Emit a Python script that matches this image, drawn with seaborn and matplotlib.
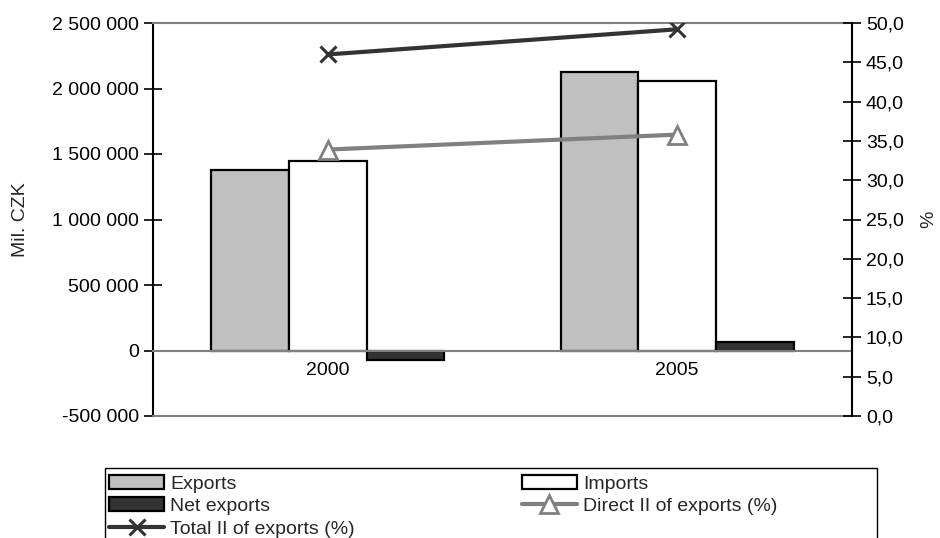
import numpy as np
import pandas as pd
import matplotlib.pyplot as plt
import seaborn as sns
from matplotlib.patches import Rectangle
from matplotlib.ticker import FuncFormatter, FixedLocator

years = ['2000', '2005']
exports = [1375000, 2125000]
imports = [1450000, 2060000]
net_exports = [-75000, 65000]
direct_ii = [33.9, 35.8]
total_ii = [46.0, 49.2]

sns.set_theme(style='white')
plt.rcParams['font.family'] = ['Liberation Sans', 'DejaVu Sans']
FS = 14

W, H = 940, 538
fig = plt.figure(figsize=(W / 100, H / 100), dpi=100)
ax = fig.add_axes([153 / W, 1 - 416 / H, (852 - 153) / W, (416 - 23) / H])

bars = pd.DataFrame({
    'year': years * 3,
    'value': exports + imports + net_exports,
    'series': ['Exports'] * 2 + ['Imports'] * 2 + ['Net exports'] * 2,
})
sns.barplot(data=bars, x='year', y='value', hue='series',
            palette={'Exports': '#c0c0c0', 'Imports': '#ffffff', 'Net exports': '#333333'},
            edgecolor='black', linewidth=1.6, width=0.667, ax=ax)

ax.set_xlim(-0.5, 1.5)
ax.set_ylim(-500000, 2500000)
ax.yaxis.set_major_locator(FixedLocator(np.arange(-500000, 2500001, 500000)))
ax.yaxis.set_major_formatter(FuncFormatter(lambda v, p: f'{int(v):,}'.replace(',', ' ')))
ax.set_xlabel('')
ax.set_ylabel('Mil. CZK', fontsize=FS, labelpad=17)

# bottom spine sits on zero, separator tick between the years
ax.spines['bottom'].set_position(('data', 0))
ax.spines['bottom'].set_color('#808080')
ax.spines['bottom'].set_linewidth(1.5)
ax.spines['top'].set_color('#808080')
ax.spines['top'].set_linewidth(1.5)
ax.spines['left'].set_color('black')
ax.spines['left'].set_linewidth(1.5)
ax.spines['right'].set_visible(False)
ax.axhline(-500000, color='#808080', lw=1.5, clip_on=False, zorder=5)
ax.set_xticks([0.5], minor=True)
ax.tick_params(axis='x', which='major', length=0, pad=8, labelsize=FS, colors='black')
ax.tick_params(axis='x', which='minor', length=14, width=1.2, direction='inout', color='black')
ax.tick_params(axis='y', length=13, width=1.2, direction='inout', labelsize=FS,
               colors='black', left=True)
ax.legend_.remove()

ax2 = ax.twinx()
x = np.arange(len(years))
ax2.plot(x, total_ii, color='#333333', lw=3, marker='x', ms=11, mew=2.2,
         label='Total II of exports (%)')
ax2.plot(x, direct_ii, color='#808080', lw=3, marker='^', ms=13, mew=2,
         mfc='white', mec='#808080', label='Direct II of exports (%)')
ax2.set_ylim(0, 50)
ax2.yaxis.set_major_locator(FixedLocator(np.arange(0, 50.1, 5)))
ax2.yaxis.set_major_formatter(FuncFormatter(lambda v, p: f'{v:.1f}'.replace('.', ',')))
ax2.set_ylabel('%', fontsize=FS, labelpad=12)
for s in ['top', 'bottom', 'left']:
    ax2.spines[s].set_visible(False)
ax2.spines['right'].set_color('black')
ax2.spines['right'].set_linewidth(1.5)
ax2.tick_params(axis='y', length=13, width=1.2, direction='inout', labelsize=FS,
                colors='black', right=True)
ax2.grid(False)
ax.grid(False)

bh, bl = ax.get_legend_handles_labels()
if not bh:
    bh = [c.patches[0] for c in ax.containers]
    bl = ['Exports', 'Imports', 'Net exports']
lh, ll = ax2.get_legend_handles_labels()
lookup = dict(zip(bl + ll, bh + lh))
order = ['Exports', 'Net exports', 'Total II of exports (%)', 'Imports', 'Direct II of exports (%)']
fig.legend([lookup[k] for k in order], order, ncol=2, loc='upper left',
           bbox_to_anchor=(109 / W, 1 - 475 / H), frameon=False, fontsize=FS,
           borderaxespad=0, borderpad=0, handlelength=2.83, handleheight=0.7,
           handletextpad=0.31, labelspacing=0.25, columnspacing=8.6)
fig.patches.append(Rectangle((105 / W, -10 / H), (877 - 105) / W, (538 + 10 - 468) / H,
                             transform=fig.transFigure, fill=False, edgecolor='black', lw=1))

fig.savefig('out.png', dpi=100)
